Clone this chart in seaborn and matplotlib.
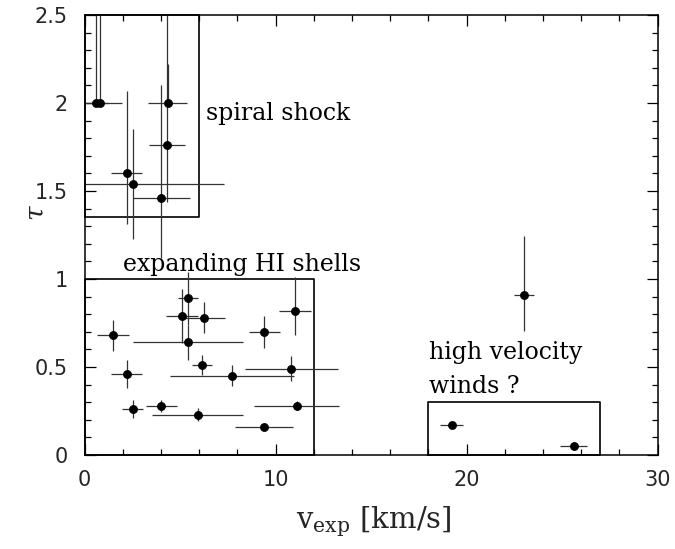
import numpy as np
import pandas as pd
import matplotlib
matplotlib.use("Agg")
import matplotlib.pyplot as plt
from matplotlib.ticker import MultipleLocator, FuncFormatter
import seaborn as sns

# Expansion velocity (km/s) and optical depth of each absorption feature
v_exp = [0.62, 0.80, 4.35, 4.32, 2.21, 2.52, 4.02,
         1.51, 2.21, 2.52, 4.02, 5.92, 5.42, 5.42, 5.10, 6.25, 11.02,
         9.41, 6.13, 7.72, 10.82, 11.10, 9.41,
         19.22, 25.61, 23.01]
v_err = [0.60, 1.15, 1.02, 0.93, 0.82, 4.80, 1.50,
         0.83, 0.82, 0.54, 0.82, 2.40, 2.90, 0.54, 0.82, 1.10, 0.83,
         0.81, 0.52, 3.25, 2.43, 2.23, 1.53,
         0.60, 0.72, 0.52]
tau = [2.00, 2.00, 2.00, 1.76, 1.60, 1.54, 1.46,
       0.68, 0.46, 0.26, 0.28, 0.23, 0.64, 0.89, 0.79, 0.78, 0.82,
       0.70, 0.51, 0.45, 0.49, 0.28, 0.16,
       0.17, 0.05, 0.91]
tau_err_lo = [0.00, 0.00, 0.00, 0.32, 0.29, 0.31, 0.34,
              0.088, 0.078, 0.05, 0.033, 0.035, 0.10, 0.15, 0.153, 0.088, 0.14,
              0.09, 0.057, 0.06, 0.072, 0.027, 0.02,
              0.0, 0.0, 0.205]
tau_err_hi = [0.80, 0.80, 0.22, 0.80, 0.47, 0.31, 0.64,
              0.088, 0.078, 0.05, 0.033, 0.035, 0.10, 0.15, 0.153, 0.088, 0.19,
              0.09, 0.057, 0.06, 0.072, 0.027, 0.02,
              0.0, 0.0, 0.336]

# Regions of the diagram: (v_min, v_max, tau_min, tau_max)
region_v0 = [0, 0, 18]
region_v1 = [6, 12, 27]
region_t0 = [1.35, 0, 0]
region_t1 = [2.5, 1.0, 0.3]

# Region labels and their anchor points
label_text = ["spiral shock", "expanding HI shells", "high velocity", "winds ?"]
label_v = [6.35, 2.0, 18.05, 18.05]
label_t = [1.94, 1.08, 0.585, 0.39]

df = pd.DataFrame({"v_exp": v_exp, "tau": tau})

sns.set_theme(style="ticks")
plt.rcParams["font.family"] = ["DejaVu Serif", "DejaVu Sans"]
plt.rcParams["mathtext.fontset"] = "dejavuserif"

fig = plt.figure(figsize=(6.75, 5.49), dpi=100)
ax = fig.add_axes([0.1252, 0.1712, 0.8489, 0.8015])

ax.errorbar(v_exp, tau, xerr=v_err, yerr=[tau_err_lo, tau_err_hi],
            fmt="none", ecolor="#333333", elinewidth=0.9, capsize=0, zorder=2)
sns.scatterplot(data=df, x="v_exp", y="tau", ax=ax, color="black",
                s=34, edgecolor="black", linewidth=0.5, zorder=3, legend=False)

for x0, x1, y0, y1 in zip(region_v0, region_v1, region_t0, region_t1):
    ax.plot([x0, x1, x1, x0, x0], [y0, y0, y1, y1, y0],
            color="black", lw=1.2, zorder=1, clip_on=False)

for txt, xv, yv in zip(label_text, label_v, label_t):
    ax.text(xv, yv, txt, fontsize=17, ha="left", va="center", color="black")

ax.set_xlim(0, 30)
ax.set_ylim(0, 2.5)
ax.xaxis.set_major_locator(MultipleLocator(10))
ax.xaxis.set_minor_locator(MultipleLocator(2))
ax.yaxis.set_major_locator(MultipleLocator(0.5))
ax.yaxis.set_minor_locator(MultipleLocator(0.1))
ax.yaxis.set_major_formatter(FuncFormatter(lambda v, p: f"{v:g}"))

ax.tick_params(which="both", direction="in", top=True, right=True,
               color="black", width=0.9)
ax.tick_params(which="major", length=8, labelsize=15)
ax.tick_params(axis="x", which="major", pad=11)
ax.tick_params(axis="y", which="major", pad=12)
ax.tick_params(which="minor", length=4)
for lab in ax.get_xticklabels() + ax.get_yticklabels():
    lab.set_family("DejaVu Sans")
for sp in ax.spines.values():
    sp.set_linewidth(1.1)
    sp.set_color("black")

ax.set_xlabel(r"$\mathrm{v}_{\mathrm{exp}}$ [km/s]", fontsize=21)
ax.xaxis.set_label_coords(0.505, -0.112)
ax.set_ylabel(r"$\tau$", fontsize=19, rotation=90)
ax.yaxis.set_label_coords(-0.062, 0.55)

fig.savefig("out.png", dpi=100)
